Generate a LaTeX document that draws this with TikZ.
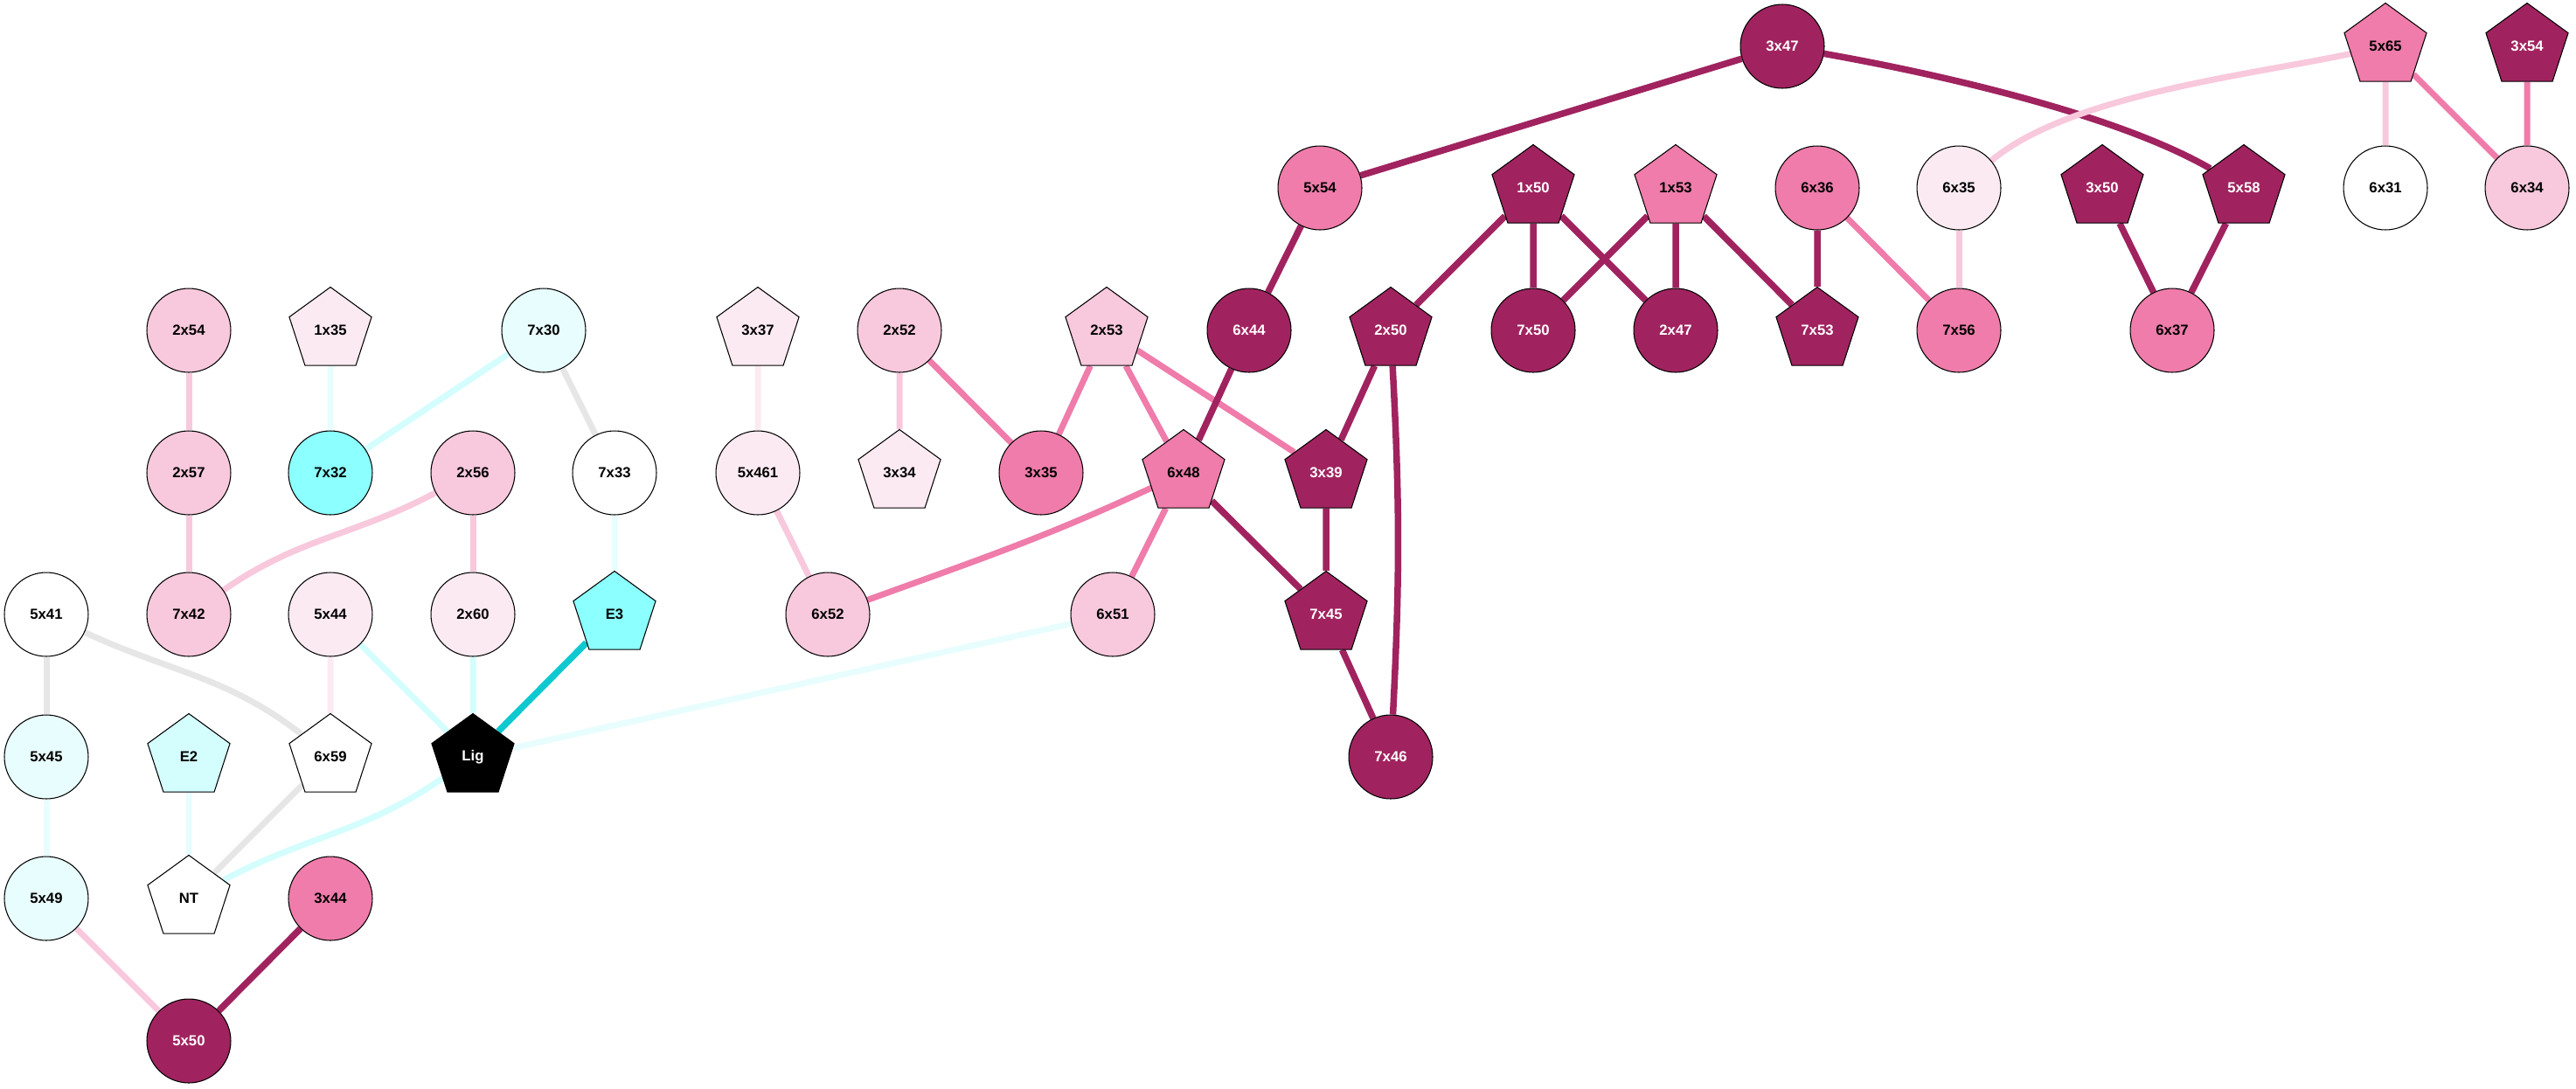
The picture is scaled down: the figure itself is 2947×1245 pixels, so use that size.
\documentclass[tikz,border=0pt]{standalone}
\usepackage{fontspec}
\setmainfont{Liberation Sans}
\usetikzlibrary{shapes.geometric,backgrounds}

\definecolor{dkm}{RGB}{160,35,95}
\definecolor{mdm}{RGB}{239,124,170}
\definecolor{ltm}{RGB}{248,200,220}
\definecolor{vlm}{RGB}{252,234,242}
\definecolor{cyn}{RGB}{140,255,255}
\definecolor{lcy}{RGB}{212,253,253}
\definecolor{vcy}{RGB}{232,253,253}
\definecolor{dcy}{RGB}{16,200,208}
\definecolor{gry}{RGB}{230,230,230}

\begin{document}
\begin{tikzpicture}[x=0.02cm,y=0.02cm]
        \tikzstyle{circ}=[circle, draw, line width=0.6pt, inner sep=0pt, minimum size=1.92cm, font=\bfseries\fontsize{9.5}{11}\selectfont]
        \tikzstyle{pent}=[regular polygon, regular polygon sides=5, draw, line width=0.6pt, inner sep=0pt, minimum size=1.98cm, font=\bfseries\fontsize{9.5}{11}\selectfont]
        \tikzstyle{dk}=[fill=dkm, text=white]
        \tikzstyle{mdp}=[fill=mdm]
        \tikzstyle{ltp}=[fill=ltm]
        \tikzstyle{vlp}=[fill=vlm]
        \tikzstyle{cyf}=[fill=cyn]
        \tikzstyle{lcf}=[fill=lcy]
        \tikzstyle{vcf}=[fill=vcy]
        \tikzstyle{blk}=[fill=black, text=white]
        \tikzstyle{lnk}=[line width=0.14cm]
        \tikzstyle{edk}=[lnk, draw=dkm, line width=0.15cm]
        \tikzstyle{emd}=[lnk, draw=mdm]
        \tikzstyle{elt}=[lnk, draw=ltm]
        \tikzstyle{evl}=[lnk, draw=vlm]
        \tikzstyle{ecy}=[lnk, draw=dcy, line width=0.15cm]
        \tikzstyle{elc}=[lnk, draw=lcy]
        \tikzstyle{evc}=[lnk, draw=vcy]
        \tikzstyle{egr}=[lnk, draw=gry]

        \useasboundingbox (0,0) rectangle (2947,-1245);

        % top row
        \node[circ, dk]  (n3x47) at (2039,-53) {3x47};
        \node[pent, mdp] (n5x65) at (2729,-53) {5x65};
        \node[pent, dk]  (n3x54) at (2891,-53) {3x54};

        \node[circ, mdp] (n5x54) at (1510,-215) {5x54};
        \node[pent, dk]  (n1x50) at (1754,-215) {1x50};
        \node[pent, mdp] (n1x53) at (1917,-215) {1x53};
        \node[circ, mdp] (n6x36) at (2079,-215) {6x36};
        \node[circ, vlp] (n6x35) at (2241,-215) {6x35};
        \node[pent, dk]  (n3x50) at (2405,-215) {3x50};
        \node[pent, dk]  (n5x58) at (2567,-215) {5x58};
        \node[circ]      (n6x31) at (2729,-215) {6x31};
        \node[circ, ltp] (n6x34) at (2891,-215) {6x34};

        \node[circ, ltp] (n2x54) at (216,-378) {2x54};
        \node[pent, vlp] (n1x35) at (378,-378) {1x35};
        \node[circ, vcf] (n7x30) at (622,-378) {7x30};
        \node[pent, vlp] (n3x37) at (867,-378) {3x37};
        \node[circ, ltp] (n2x52) at (1029,-378) {2x52};
        \node[pent, ltp] (n2x53) at (1266,-378) {2x53};
        \node[circ, dk]  (n6x44) at (1429,-378) {6x44};
        \node[pent, dk]  (n2x50) at (1591,-378) {2x50};
        \node[circ, dk]  (n7x50) at (1754,-378) {7x50};
        \node[circ, dk]  (n2x47) at (1917,-378) {2x47};
        \node[pent, dk]  (n7x53) at (2079,-378) {7x53};
        \node[circ, mdp] (n7x56) at (2241,-378) {7x56};
        \node[circ, mdp] (n6x37) at (2485,-378) {6x37};

        \node[circ, ltp] (n2x57) at (216,-541) {2x57};
        \node[circ, cyf] (n7x32) at (378,-541) {7x32};
        \node[circ, ltp] (n2x56) at (541,-541) {2x56};
        \node[circ]      (n7x33) at (703,-541) {7x33};
        \node[circ, vlp] (n5x461) at (867,-541) {5x461};
        \node[pent, vlp] (n3x34) at (1029,-541) {3x34};
        \node[circ, mdp] (n3x35) at (1191,-541) {3x35};
        \node[pent, mdp] (n6x48) at (1354,-541) {6x48};
        \node[pent, dk]  (n3x39) at (1517,-541) {3x39};

        \node[circ]      (n5x41) at (53,-703) {5x41};
        \node[circ, ltp] (n7x42) at (216,-703) {7x42};
        \node[circ, vlp] (n5x44) at (378,-703) {5x44};
        \node[circ, vlp] (n2x60) at (541,-703) {2x60};
        \node[pent, cyf] (e3)    at (703,-703) {E3};
        \node[circ, ltp] (n6x52) at (947,-703) {6x52};
        \node[circ, ltp] (n6x51) at (1273,-703) {6x51};
        \node[pent, dk]  (n7x45) at (1517,-703) {7x45};

        \node[circ, vcf] (n5x45) at (53,-866) {5x45};
        \node[pent, lcf] (e2)    at (216,-866) {E2};
        \node[pent]      (n6x59) at (378,-866) {6x59};
        \node[pent, blk] (lig)   at (541,-866) {Lig};
        \node[circ, dk]  (n7x46) at (1591,-866) {7x46};

        \node[circ, vcf] (n5x49) at (53,-1028) {5x49};
        \node[pent]      (nt)    at (216,-1028) {NT};
        \node[circ, mdp] (n3x44) at (378,-1028) {3x44};

        \node[circ, dk]  (n5x50) at (216,-1191) {5x50};

        \begin{pgfonlayer}{background}
        \draw[edk] (n3x47) -- (n5x54);
        \draw[edk] (n3x47) to[out=-10,in=150,looseness=0.7] (n5x58);
        \draw[elt] (n5x65) to[out=192,in=40,looseness=0.7] (n6x35);
        \draw[elt] (n5x65) -- (n6x31);
        \draw[emd] (n5x65) -- (n6x34);
        \draw[emd] (n3x54) -- (n6x34);
        \draw[edk] (n5x54) -- (n6x44);
        \draw[edk] (n1x50) -- (n2x50);
        \draw[edk] (n1x50) -- (n7x50);
        \draw[edk] (n1x50) -- (n2x47);
        \draw[edk] (n1x53) -- (n7x50);
        \draw[edk] (n1x53) -- (n2x47);
        \draw[edk] (n1x53) -- (n7x53);
        \draw[edk] (n6x36) -- (n7x53);
        \draw[emd] (n6x36) -- (n7x56);
        \draw[elt] (n6x35) -- (n7x56);
        \draw[edk] (n3x50) -- (n6x37);
        \draw[edk] (n5x58) -- (n6x37);

        \draw[elt] (n2x54) -- (n2x57);
        \draw[elt] (n2x57) -- (n7x42);
        \draw[evc] (n1x35) -- (n7x32);
        \draw[elc] (n7x30) -- (n7x32);
        \draw[egr] (n7x30) -- (n7x33);
        \draw[elt] (n2x56) to[out=208,in=35] (n7x42);
        \draw[elt] (n2x56) -- (n2x60);
        \draw[evc] (n7x33) -- (e3);
        \draw[egr] (n5x41) -- (n5x45);
        \draw[egr] (n5x41) to[out=-25,in=142] (n6x59);
        \draw[evl] (n5x44) -- (n6x59);
        \draw[elc] (n5x44) -- (lig);
        \draw[elc] (n2x60) -- (lig);
        \draw[ecy] (e3) -- (lig);
        \draw[evc] (lig) -- (n6x51);
        \draw[elc] (lig) to[out=215,in=28] (nt);
        \draw[egr] (n6x59) -- (nt);
        \draw[evc] (e2) -- (nt);
        \draw[evc] (n5x45) -- (n5x49);
        \draw[elt] (n5x49) -- (n5x50);
        \draw[edk] (n3x44) -- (n5x50);

        \draw[evl] (n3x37) -- (n5x461);
        \draw[elt] (n5x461) -- (n6x52);
        \draw[elt] (n2x52) -- (n3x34);
        \draw[emd] (n2x52) -- (n3x35);
        \draw[emd] (n2x53) -- (n3x35);
        \draw[emd] (n2x53) -- (n6x48);
        \draw[emd] (n2x53) -- (n3x39);
        \draw[edk] (n6x44) -- (n6x48);
        \draw[edk] (n2x50) -- (n3x39);
        \draw[edk] (n2x50) to[bend left=3] (n7x46);
        \draw[emd] (n6x48) to[out=205,in=20] (n6x52);
        \draw[emd] (n6x48) -- (n6x51);
        \draw[edk] (n6x48) -- (n7x45);
        \draw[edk] (n3x39) -- (n7x45);
        \draw[edk] (n7x45) -- (n7x46);
        \end{pgfonlayer}
    \end{tikzpicture}
\end{document}
